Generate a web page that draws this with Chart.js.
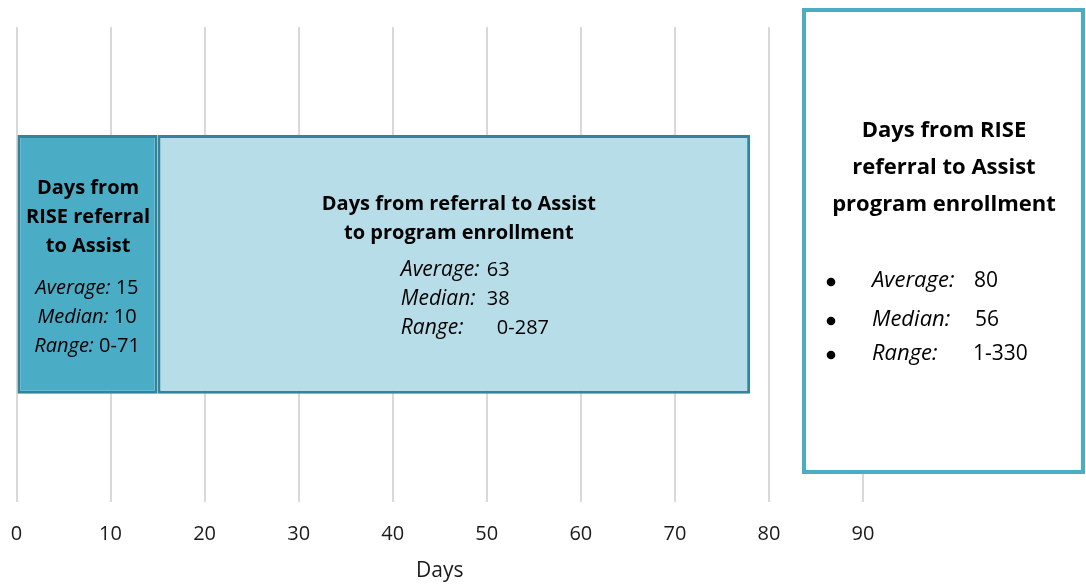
<!DOCTYPE html>
<html>
<head>
<meta charset="utf-8">
<script src="https://cdn.jsdelivr.net/npm/chart.js@4"></script>
<style>
  html, body { margin: 0; padding: 0; background: #ffffff; }
  #wrap { position: relative; width: 1086px; height: 584px; }
</style>
</head>
<body>
<div id="wrap"><canvas id="c" width="1086" height="584"></canvas></div>
<script>
// ---- data ----
const categories = ['Days'];
const segmentNames = ['Days from RISE referral to Assist', 'Days from referral to Assist to program enrollment'];
const segmentValues = [15, 63];
const xTicks = [0, 10, 20, 30, 40, 50, 60, 70, 80, 90];
const seg1Title = ['Days from', 'RISE referral', 'to Assist'];
const seg1Stats = [['Average:', '15'], ['Median:', '10'], ['Range:', '0-71']];
const seg2Title = ['Days from referral to Assist', 'to program enrollment'];
const seg2Stats = [['Average:', '63'], ['Median:', '38'], ['Range:', '0-287']];
const boxTitle = ['Days from RISE', 'referral to Assist', 'program enrollment'];
const boxStats = [['Average:', '80'], ['Median:', '56'], ['Range:', '1-330']];

const FONT = '"Open Sans", sans-serif';

const labelPlugin = {
  id: 'labels',
  afterDatasetsDraw(chart) {
    const ctx = chart.ctx;
    const xs = chart.scales.x;
    const meta0 = chart.getDatasetMeta(0).data[0];
    const yc = meta0.y;
    ctx.save();
    ctx.fillStyle = '#000';
    ctx.textBaseline = 'middle';
    // segment 1
    const c1 = (xs.getPixelForValue(0) + xs.getPixelForValue(segmentValues[0])) / 2;
    ctx.textAlign = 'center';
    ctx.font = 'bold 20px ' + FONT;
    seg1Title.forEach((t, i) => ctx.fillText(t, c1 + 1, yc - 76 + i * 29));
    seg1Stats.forEach((s, i) => {
      ctx.font = 'italic 20px ' + FONT;
      const w1 = ctx.measureText(s[0] + ' ').width;
      ctx.font = '20px ' + FONT;
      const w2 = ctx.measureText(s[1]).width;
      const x0 = c1 - (w1 + w2) / 2;
      ctx.textAlign = 'left';
      ctx.font = 'italic 20px ' + FONT;
      ctx.fillText(s[0], x0, yc + 24 + i * 29);
      ctx.font = '20px ' + FONT;
      ctx.fillText(s[1], x0 + w1, yc + 24 + i * 29);
      ctx.textAlign = 'center';
    });
    // segment 2
    const c2 = (xs.getPixelForValue(segmentValues[0]) + xs.getPixelForValue(segmentValues[0] + segmentValues[1])) / 2;
    ctx.font = 'bold 20px ' + FONT;
    seg2Title.forEach((t, i) => ctx.fillText(t, c2 + 5, yc - 60 + i * 29));
    ctx.textAlign = 'left';
    const statX = c2 - 53;
    const numX = [c2 + 33, c2 + 33, c2 + 43];
    seg2Stats.forEach((s, i) => {
      ctx.font = 'italic 21px ' + FONT;
      ctx.fillText(s[0], statX, yc + 6 + i * 29);
      ctx.font = '20px ' + FONT;
      ctx.fillText(s[1], numX[i], yc + 6 + i * 29);
    });
    ctx.restore();
  },
  afterDraw(chart) {
    const ctx = chart.ctx;
    ctx.save();
    // text box
    ctx.fillStyle = '#ffffff';
    ctx.fillRect(802, 8, 284, 466);
    ctx.strokeStyle = '#4BACC6';
    ctx.lineWidth = 4;
    ctx.strokeRect(804, 10, 279, 462);
    ctx.fillStyle = '#000';
    ctx.textBaseline = 'middle';
    ctx.textAlign = 'center';
    ctx.font = 'bold 22px ' + FONT;
    boxTitle.forEach((t, i) => ctx.fillText(t, 944, 131 + i * 37));
    boxStats.forEach((s, i) => {
      const y = [281, 320, 354][i];
      ctx.beginPath();
      ctx.arc(831, y + 1, 4.3, 0, Math.PI * 2);
      ctx.fill();
      ctx.textAlign = 'left';
      ctx.font = 'italic 22px ' + FONT;
      ctx.fillText(s[0], 872, y);
      ctx.font = '21px ' + FONT;
      ctx.fillText(s[1], [974, 975, 973][i], y);
    });
    ctx.restore();
  }
};

new Chart(document.getElementById('c'), {
  type: 'bar',
  data: {
    labels: categories,
    datasets: [
      { label: segmentNames[0], data: [segmentValues[0]], backgroundColor: '#4BACC6', borderColor: '#31849B', borderWidth: 3, borderSkipped: false },
      { label: segmentNames[1], data: [segmentValues[1]], backgroundColor: '#B7DDE8', borderColor: '#31849B', borderWidth: 3, borderSkipped: false }
    ]
  },
  plugins: [labelPlugin],
  options: {
    indexAxis: 'y',
    responsive: false,
    animation: false,
    events: [],
    layout: { padding: { left: 16.5, right: 223, top: 27, bottom: 0 } },
    plugins: { legend: { display: false }, tooltip: { enabled: false } },
    datasets: { bar: { categoryPercentage: 1, barPercentage: 0.545 } },
    scales: {
      x: {
        stacked: true,
        min: 0, max: 90,
        afterBuildTicks(axis) { axis.ticks = xTicks.map(v => ({ value: v })); },
        afterFit(axis) { axis.paddingLeft = 0; axis.paddingRight = 0; },
        grid: { color: '#D9D9D9', lineWidth: 2, drawTicks: false },
        border: { display: false },
        ticks: { color: '#1a1a1a', font: { family: FONT, size: 20 }, padding: 20 },
        title: { display: true, text: 'Days', color: '#1a1a1a', font: { family: FONT, size: 21 }, padding: { top: -7, bottom: 0 } }
      },
      y: {
        stacked: true,
        display: false
      }
    }
  }
});
</script>
</body>
</html>
